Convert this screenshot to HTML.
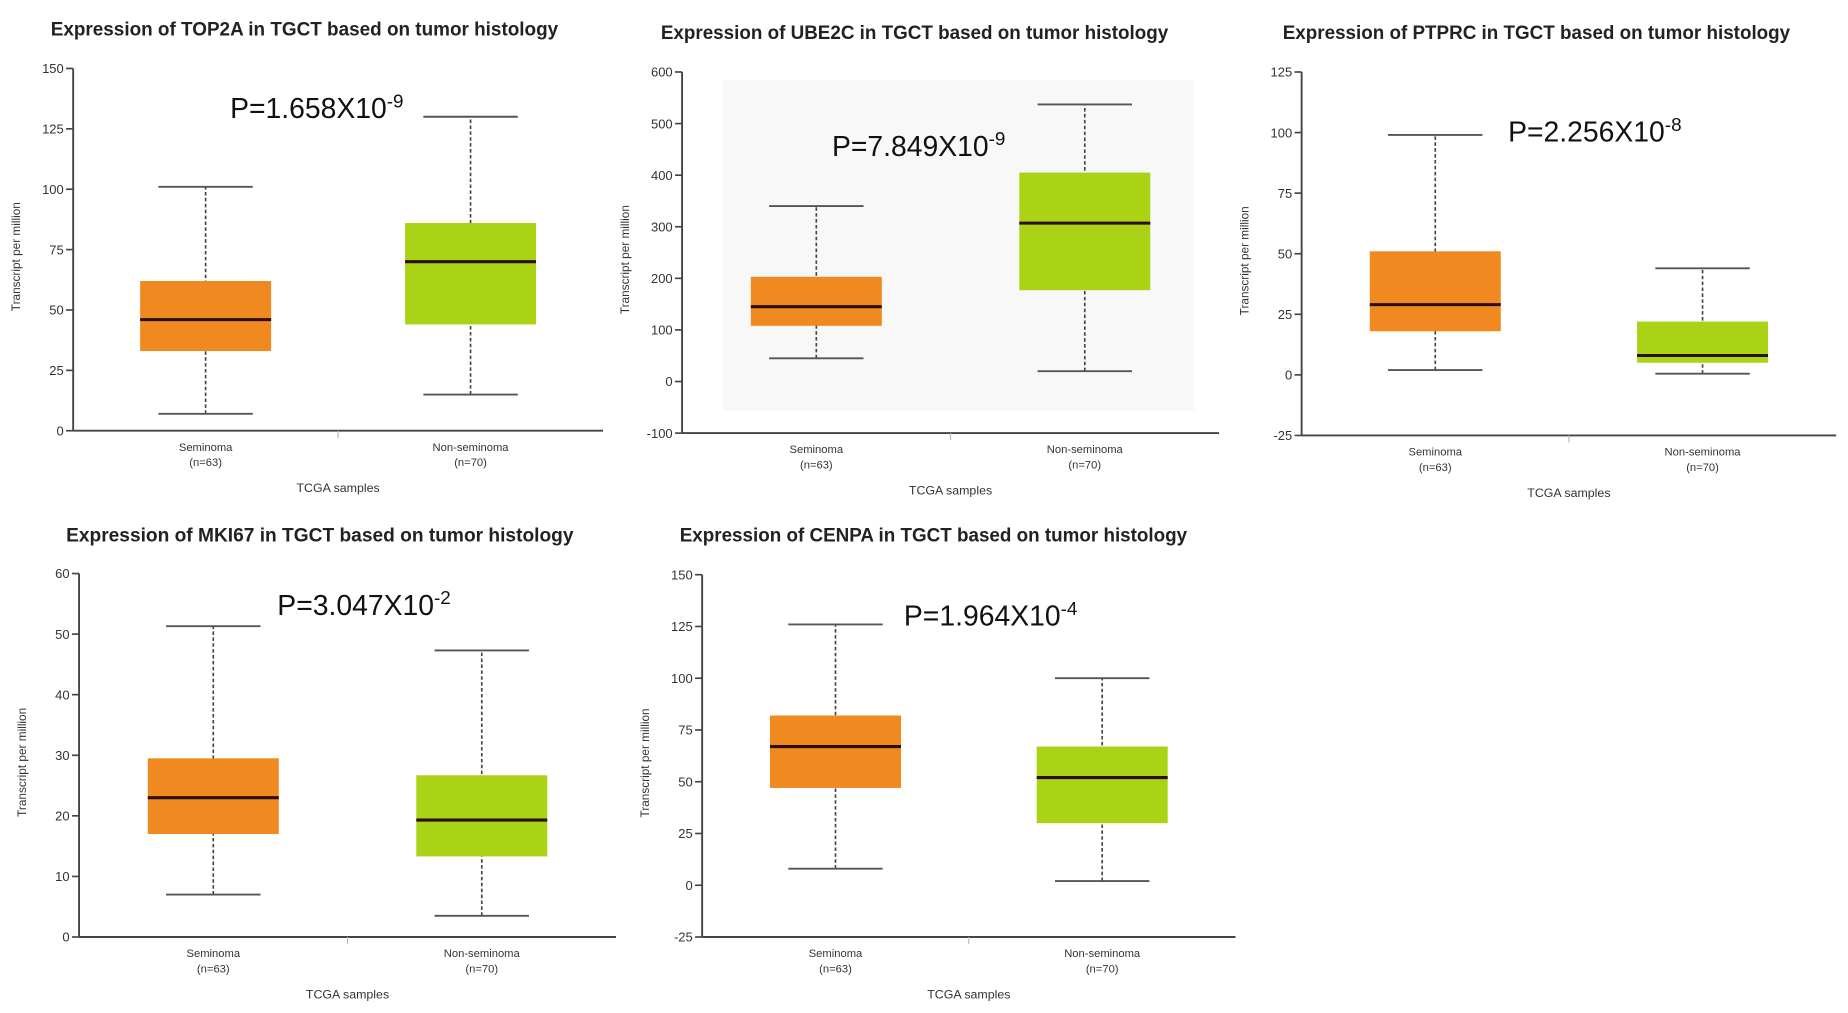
<!DOCTYPE html>
<html><head><meta charset="utf-8"><style>
html,body{margin:0;padding:0;background:#fff;}
svg{display:block;}
text{font-family:"Liberation Sans","DejaVu Sans",sans-serif;}
</style></head><body>
<svg id="fig" width="1848" height="1013" viewBox="0 0 1566 858.4" preserveAspectRatio="none" xmlns="http://www.w3.org/2000/svg"></svg>
<script>
// Data: [min, q1, median, q3, max]
const groups = ["Seminoma", "Non-seminoma"];
const groupN = ["(n=63)", "(n=70)"];
const top2aSem = [7, 33, 46, 62, 101];
const top2aNon = [15, 44, 70, 86, 130];
const ube2cSem = [45, 108, 145, 203, 340];
const ube2cNon = [20, 177, 307, 405, 537];
const ptprcSem = [2, 18, 29, 51, 99];
const ptprcNon = [0.5, 5, 8, 22, 44];
const mki67Sem = [7, 17, 23, 29.5, 51.3];
const mki67Non = [3.5, 13.3, 19.3, 26.7, 47.3];
const cenpaSem = [8, 47, 67, 82, 126];
const cenpaNon = [2, 30, 52, 67, 100];
const top2aTicks = [0, 25, 50, 75, 100, 125, 150];
const ube2cTicks = [-100, 0, 100, 200, 300, 400, 500, 600];
const ptprcTicks = [-25, 0, 25, 50, 75, 100, 125];
const mki67Ticks = [0, 10, 20, 30, 40, 50, 60];
const cenpaTicks = [-25, 0, 25, 50, 75, 100, 125, 150];
const pLabels = ["1.658", "7.849", "2.256", "3.047", "1.964"];
const pExps = ["-9", "-9", "-8", "-2", "-4"];
const genes = ["TOP2A", "UBE2C", "PTPRC", "MKI67", "CENPA"];

const panels = [
 {sem:top2aSem, non:top2aNon, ticks:top2aTicks, ax:62, yTop:58, yBot:365, xEnd:511, tx:43, ty:30, px:195, py:100, bg:false},
 {sem:ube2cSem, non:ube2cNon, ticks:ube2cTicks, ax:578, yTop:61, yBot:367, xEnd:1033, tx:560, ty:33, px:705, py:132, bg:true},
 {sem:ptprcSem, non:ptprcNon, ticks:ptprcTicks, ax:1103, yTop:61, yBot:369, xEnd:1556, tx:1087, ty:33, px:1278, py:120, bg:false},
 {sem:mki67Sem, non:mki67Non, ticks:mki67Ticks, ax:67, yTop:486, yBot:794, xEnd:522, tx:56, ty:459, px:235, py:521, bg:false},
 {sem:cenpaSem, non:cenpaNon, ticks:cenpaTicks, ax:595, yTop:487, yBot:794, xEnd:1047, tx:576, ty:459, px:766, py:530, bg:false}
];
const NS = "http://www.w3.org/2000/svg";
const svg = document.getElementById("fig");
function mk(tag, attrs, parent, txt){
  const e = document.createElementNS(NS, tag);
  for (const k in attrs) e.setAttribute(k, attrs[k]);
  if (txt !== undefined) e.textContent = txt;
  (parent || svg).appendChild(e);
  return e;
}
panels.forEach((p, i) => {
  const g = mk("g", {});
  
  
  const lo = p.ticks[0], hi = p.ticks[p.ticks.length - 1];
  const y = v => p.yBot - (v - lo) / (hi - lo) * (p.yBot - p.yTop);
  const w = p.xEnd - p.ax;
  const x = k => p.ax + w * (0.25 + 0.5 * k);
  if (p.bg) {
    const r = mk("rect", {x:p.ax + 34, y:p.yTop + 7, width:400, height:280, fill:"#f8f8f8"}, g);
    
    
  }
  const t = mk("text", {x:p.tx, y:p.ty, "font-size":16.5, "font-weight":"bold", fill:"#222", textLength:430, lengthAdjust:"spacingAndGlyphs"}, g, "Expression of " + genes[i] + " in TGCT based on tumor histology");
  
  
  const ya = mk("line", {x1:p.ax, y1:p.yTop, x2:p.ax, y2:p.yBot, stroke:"#444", "stroke-width":1.6}, g);
  
  
  const xa = mk("line", {x1:p.ax, y1:p.yBot, x2:p.xEnd, y2:p.yBot, stroke:"#444", "stroke-width":1.6}, g);
  
  
  mk("line", {x1:p.ax + w/2, y1:p.yBot, x2:p.ax + w/2, y2:p.yBot + 6, stroke:"#bbb", "stroke-width":1}, g);
  p.ticks.forEach(v => {
    mk("line", {x1:p.ax - 6, y1:y(v), x2:p.ax, y2:y(v), stroke:"#444", "stroke-width":1.4}, g);
    const tl = mk("text", {x:p.ax - 8, y:y(v) + 4, "font-size":11, "text-anchor":"end", fill:"#333"}, g, String(v));
    
    
  });
  const yt = mk("text", {x:0, y:0, "font-size":10, "text-anchor":"middle", fill:"#333", transform:"translate(" + (p.ax - 45) + "," + ((p.yTop + p.yBot)/2 + 6) + ") rotate(-90)"}, g, "Transcript per million");
  
  
  const xt = mk("text", {x:p.ax + w/2, y:p.yBot + 52, "font-size":10.5, "text-anchor":"middle", fill:"#333"}, g, "TCGA samples");
  
  
  [p.sem, p.non].forEach((d, k) => {
    const cx = x(k), hw = 55.5;
    const color = k === 0 ? "#F0891F" : "#AAD316";
    const bg2 = mk("g", {}, g);
    
    
    mk("line", {x1:cx, y1:y(d[0]), x2:cx, y2:y(d[4]), stroke:"#444", "stroke-width":1.4, "stroke-dasharray":"3,2"}, bg2);
    mk("line", {x1:cx - 40, y1:y(d[0]), x2:cx + 40, y2:y(d[0]), stroke:"#555", "stroke-width":1.6}, bg2);
    mk("line", {x1:cx - 40, y1:y(d[4]), x2:cx + 40, y2:y(d[4]), stroke:"#555", "stroke-width":1.6}, bg2);
    mk("rect", {x:cx - hw, y:y(d[3]), width:hw*2, height:y(d[1]) - y(d[3]), fill:color}, bg2);
    mk("line", {x1:cx - hw, y1:y(d[2]), x2:cx + hw, y2:y(d[2]), stroke:"#2a0e00", "stroke-width":2.6}, bg2);
    const gl = mk("text", {x:cx, y:p.yBot + 17, "font-size":9.5, "text-anchor":"middle", fill:"#333"}, g, groups[k]);
    
    
    mk("text", {x:cx, y:p.yBot + 30, "font-size":9.5, "text-anchor":"middle", fill:"#333"}, g, groupN[k]);
  });
  const pt = mk("text", {x:p.px, y:p.py, "font-size":24, fill:"#111"}, g);
  
  
  mk("tspan", {}, pt, "P=" + pLabels[i] + "X10");
  mk("tspan", {dy:-9, "font-size":16}, pt, pExps[i]);
});
</script>
</body></html>
